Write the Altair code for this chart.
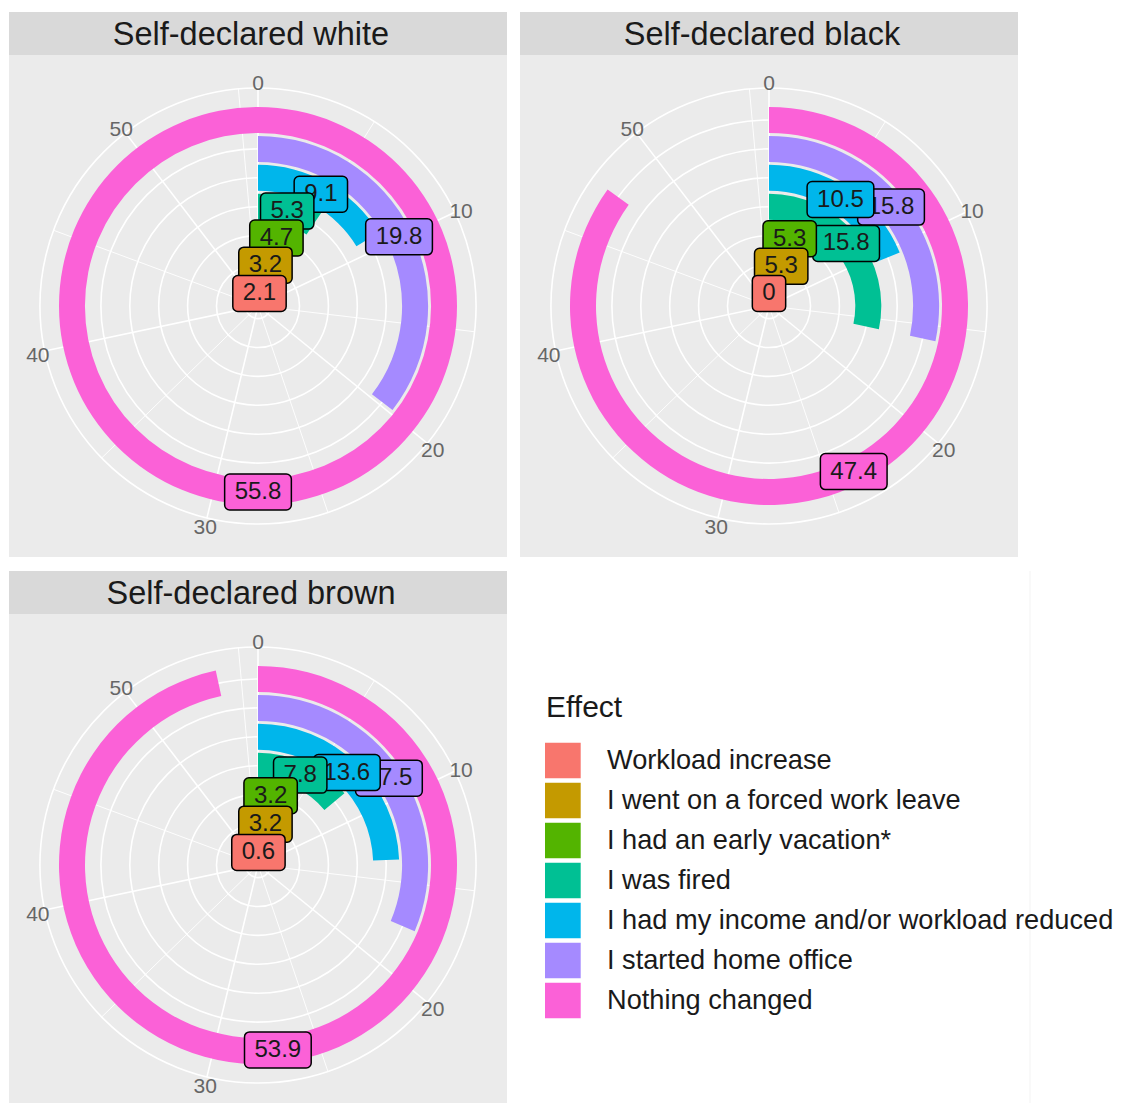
import math
import altair as alt
import pandas as pd

# ---------------- data ----------------
categories = [
    "Workload increase",
    "I went on a forced work leave",
    "I had an early vacation*",
    "I was fired",
    "I had my income and/or workload reduced",
    "I started home office",
    "Nothing changed",
]
colors = ["#F8766D", "#C49A00", "#53B400", "#00C094", "#00B6EB", "#A58AFF", "#FB61D7"]
panel_titles = ["Self-declared white", "Self-declared black", "Self-declared brown"]
white_values = [2.1, 3.2, 4.7, 5.3, 9.1, 19.8, 55.8]
black_values = [0, 5.3, 5.3, 15.8, 10.5, 15.8, 47.4]
brown_values = [0.6, 3.2, 3.2, 7.8, 13.6, 17.5, 53.9]
theta_major_breaks = [0, 10, 20, 30, 40, 50]
theta_minor_breaks = [5, 15, 25, 35, 45, 55]
legend_title = "Effect"

# ---------------- geometry / style ----------------
FONT = "Liberation Sans"
PW = 498
STRIP_H = 43
PANEL_H = 502
CX = PW / 2
CY = STRIP_H + PANEL_H / 2
RING_PX = 28.9
RING_ORIGIN = 0.564
OUTER_INDEX = 7.45
R_OUTER_GRID = 218
R_LABEL = 225
BAR_HALF = 0.45

THETA_MAX = max(white_values + black_values + brown_values)
TAU = 2 * math.pi

theta_scale = alt.Scale(domain=[0, THETA_MAX], range=[0, TAU])
r_scale = alt.Scale(type="linear", domain=[RING_ORIGIN, OUTER_INDEX],
                    range=[0, RING_PX * (OUTER_INDEX - RING_ORIGIN)], clamp=True)
pix = alt.Scale(domain=[0, 1000], range=[0, 1000])
color_scale = alt.Scale(domain=categories, range=colors)


def fmt(v):
    return f"{v:g}"


def panel(title, values, height):
    df = pd.DataFrame({
        "cat": categories,
        "val": values,
        "ring": list(range(1, len(categories) + 1)),
        "lab": [fmt(v) for v in values],
    })
    df["start"] = 0.0
    one = pd.DataFrame({"t": [title]})
    rings = pd.DataFrame({"ring": list(range(1, len(categories) + 1))})
    breaks = pd.DataFrame({
        "b": theta_major_breaks + theta_minor_breaks,
        "major": [1] * len(theta_major_breaks) + [0] * len(theta_minor_breaks),
    })

    strip = alt.Chart(one).mark_rect(color="#D9D9D9").encode(
        x=alt.value(0), x2=alt.value(PW), y=alt.value(0), y2=alt.value(STRIP_H))
    strip_txt = alt.Chart(one).mark_text(
        font=FONT, fontSize=32.5, color="#1A1A1A", align="center", baseline="middle"
    ).encode(text="t:N", x=alt.value(CX - 7), y=alt.value(STRIP_H / 2 + 1))
    bg = alt.Chart(one).mark_rect(color="#EBEBEB").encode(
        x=alt.value(0), x2=alt.value(PW), y=alt.value(STRIP_H), y2=alt.value(height))

    circles = alt.Chart(rings).mark_arc(fillOpacity=0, stroke="white", strokeWidth=1.6).encode(
        theta=alt.value(0), theta2=alt.value(TAU),
        radius=alt.Radius("ring:Q", scale=r_scale, stack=None),
        x=alt.value(CX), y=alt.value(CY))
    outer = alt.Chart(one).mark_arc(fillOpacity=0, stroke="white", strokeWidth=1.6).encode(
        theta=alt.value(0), theta2=alt.value(TAU), radius=alt.value(R_OUTER_GRID),
        x=alt.value(CX), y=alt.value(CY))

    spoke_base = alt.Chart(breaks).transform_calculate(
        ang=f"datum.b / {THETA_MAX} * 2 * PI"
    ).transform_calculate(
        x0=f"{CX}", y0=f"{CY}",
        x1=f"{CX} + {R_OUTER_GRID} * sin(datum.ang)",
        y1=f"{CY} - {R_OUTER_GRID} * cos(datum.ang)",
    )
    spokes_minor = spoke_base.transform_filter("datum.major == 0").mark_rule(
        color="white", strokeWidth=0.9).encode(
        x=alt.X("x0:Q", scale=pix, axis=None), x2="x1:Q",
        y=alt.Y("y0:Q", scale=pix, axis=None), y2="y1:Q")
    spokes_major = spoke_base.transform_filter("datum.major == 1").mark_rule(
        color="white", strokeWidth=1.6).encode(
        x=alt.X("x0:Q", scale=pix, axis=None), x2="x1:Q",
        y=alt.Y("y0:Q", scale=pix, axis=None), y2="y1:Q")

    tlabels = alt.Chart(pd.DataFrame({"b": theta_major_breaks})).mark_text(
        font=FONT, fontSize=21, color="#666666", align="center", baseline="middle"
    ).encode(
        theta=alt.Theta("b:Q", scale=theta_scale, stack=None),
        radius=alt.value(R_LABEL), text="b:Q",
        x=alt.value(CX), y=alt.value(CY + 3))

    bars = alt.Chart(df).transform_calculate(
        rin=f"datum.ring - {BAR_HALF}", rout=f"datum.ring + {BAR_HALF}"
    ).mark_arc().encode(
        theta=alt.Theta("start:Q", scale=theta_scale, stack=None), theta2="val:Q",
        radius=alt.Radius("rout:Q", scale=r_scale, stack=None), radius2="rin:Q",
        color=alt.Color("cat:N", scale=color_scale, legend=None),
        x=alt.value(CX), y=alt.value(CY))

    lab_base = alt.Chart(df).transform_calculate(
        ang=f"datum.val / 2 / {THETA_MAX} * 2 * PI",
        rpx=f"{RING_PX} * (datum.ring - {RING_ORIGIN})",
        ndot="indexof(datum.lab, '.') >= 0 ? 1 : 0",
    ).transform_calculate(
        lx=f"{CX} + datum.rpx * sin(datum.ang)",
        ly=f"{CY} - datum.rpx * cos(datum.ang)",
        hw="(20 + 24 * (0.556 * (length(datum.lab) - datum.ndot) + 0.278 * datum.ndot)) / 2",
    ).transform_calculate(
        xa="datum.lx - datum.hw", xb="datum.lx + datum.hw",
        ya="datum.ly - 18", yb="datum.ly + 18",
    )
    label_layers = []
    for k in range(len(categories), 0, -1):
        sub = lab_base.transform_filter(f"datum.ring == {k}")
        box = sub.mark_rect(stroke="black", strokeWidth=1.5, cornerRadius=5).encode(
            x=alt.X("xa:Q", scale=pix, axis=None), x2="xb:Q",
            y=alt.Y("ya:Q", scale=pix, axis=None), y2="yb:Q",
            color=alt.Color("cat:N", scale=color_scale, legend=None))
        txt = sub.mark_text(font=FONT, fontSize=24, color="#1A1A1A",
                            align="center", baseline="middle").encode(
            x=alt.X("lx:Q", scale=pix, axis=None),
            y=alt.Y("ly:Q", scale=pix, axis=None), text="lab:N")
        label_layers += [box, txt]

    return alt.layer(strip, bg, strip_txt, circles, outer, spokes_minor, spokes_major,
                     tlabels, bars, *label_layers).properties(width=PW, height=height)


def legend_panel(height):
    leg_df = pd.DataFrame({"cat": categories, "idx": list(range(len(categories)))})
    leg_y = alt.Scale(domain=[0, 7], range=[171.7, 171.7 + 280])
    frame = alt.Chart(pd.DataFrame({"t": [0]})).mark_rule(color="#F3F3F3", strokeWidth=1).encode(
        x=alt.value(510), y=alt.value(0), y2=alt.value(height))
    sw = alt.Chart(leg_df).transform_calculate(y2="datum.idx + 0.89").mark_rect().encode(
        x=alt.value(25), x2=alt.value(60.7),
        y=alt.Y("idx:Q", scale=leg_y, axis=None), y2="y2:Q",
        color=alt.Color("cat:N", scale=color_scale, legend=None))
    lt = alt.Chart(leg_df).transform_calculate(yc="datum.idx + 0.445").mark_text(
        align="left", baseline="middle", font=FONT, fontSize=27.2, color="#1A1A1A").encode(
        x=alt.value(87), y=alt.Y("yc:Q", scale=leg_y, axis=None), text="cat:N")
    title = alt.Chart(pd.DataFrame({"t": [legend_title]})).mark_text(
        align="left", baseline="middle", font=FONT, fontSize=30, color="#1A1A1A").encode(
        x=alt.value(26), y=alt.value(137), text="t:N")
    return alt.layer(frame, sw, lt, title).properties(width=594, height=height)


ROW_H = STRIP_H + PANEL_H
row1 = alt.hconcat(panel(panel_titles[0], white_values, ROW_H),
                   panel(panel_titles[1], black_values, ROW_H),
                   spacing=13).resolve_scale(x="independent", y="independent")
row2 = alt.hconcat(panel(panel_titles[2], brown_values, ROW_H),
                   legend_panel(ROW_H),
                   spacing=13).resolve_scale(x="independent", y="independent")

chart = alt.vconcat(row1, row2, spacing=13).resolve_scale(
    x="independent", y="independent"
).properties(
    padding={"left": 1, "top": 4, "right": 0, "bottom": 0},
    background="white",
).configure_view(stroke=None)

chart.save("out.html", embed_options={"renderer": "svg", "actions": False})
